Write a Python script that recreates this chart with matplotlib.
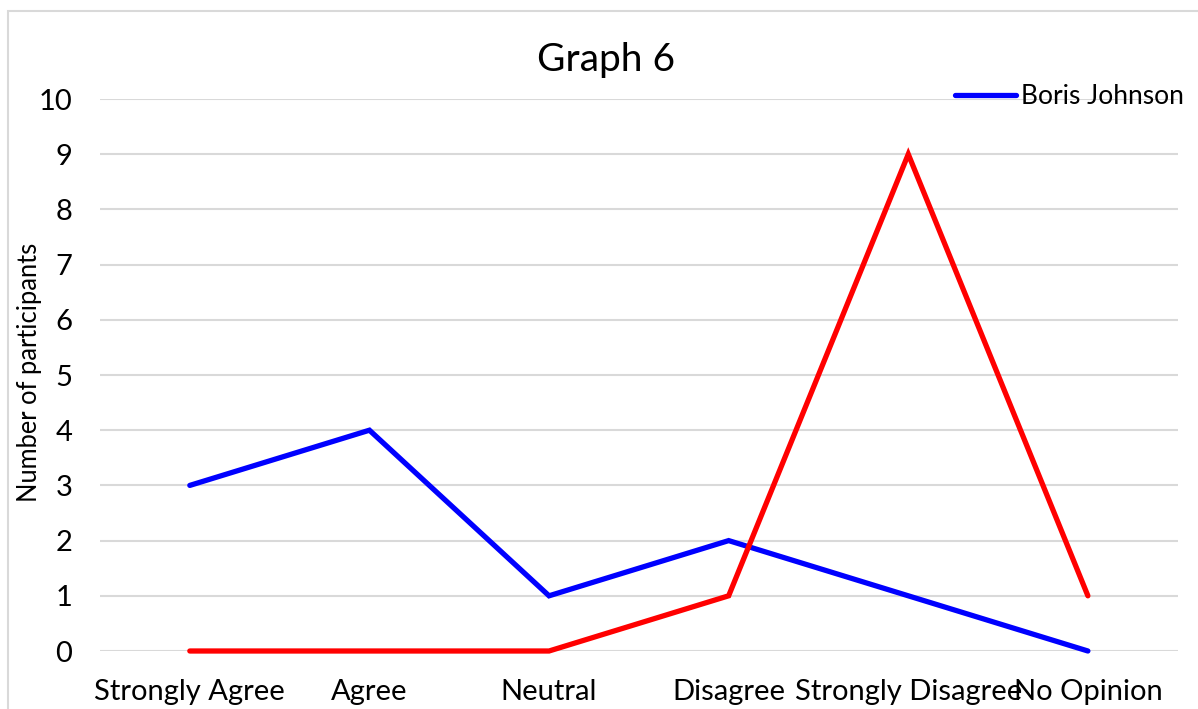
import matplotlib
matplotlib.use("Agg")
import matplotlib.pyplot as plt
from matplotlib.patches import Rectangle

categories = ["Strongly Agree", "Agree", "Neutral", "Disagree", "Strongly Disagree", "No Opinion"]
boris_johnson = [3, 4, 1, 2, 1, 0]
second_series = [0, 0, 0, 1, 9, 1]
y_ticks = list(range(0, 11))

plt.rcParams["font.family"] = ["Lato", "DejaVu Sans"]

W, H = 1198, 709
fig = plt.figure(figsize=(W / 100, H / 100), dpi=100)
fig.patch.set_facecolor("white")

# chart frame (partially outside the canvas)
fig.add_artist(Rectangle((8 / W, -0.1), 1.2, 1 - 11 / H + 0.1, transform=fig.transFigure,
                         fill=False, edgecolor="#d9d9d9", linewidth=1.5))

left, right = 100 / W, 1177.7 / W
top, bottom = 1 - 99 / H, 1 - 651 / H
ax = fig.add_axes([left, bottom, right - left, top - bottom])

x = list(range(len(categories)))
ax.plot(x, boris_johnson, color="#0000ff", linewidth=3.8, solid_capstyle="round",
        solid_joinstyle="miter", label="Boris Johnson", zorder=3)
ax.plot(x, second_series, color="#ff0000", linewidth=3.8, solid_capstyle="round",
        solid_joinstyle="miter", zorder=3)

ax.set_xlim(-0.5, len(categories) - 0.5)
ax.set_ylim(0, 10)
ax.set_yticks(y_ticks)
ax.set_xticks(x)
ax.set_xticklabels(categories, fontsize=21)
ax.tick_params(axis="y", labelsize=21, length=0, pad=20)
ax.tick_params(axis="x", length=0, pad=20)
ax.yaxis.grid(True, color="#d9d9d9", linewidth=1.5)
ax.set_axisbelow(True)
for s in ax.spines.values():
    s.set_visible(False)
ax.patch.set_alpha(0)
for ln in ax.lines:
    ln.set_clip_on(False)

fig.text(30 / W, 1 - 372 / H, "Number of participants", fontsize=18.4, rotation=90,
         ha="center", va="center")
fig.text(606 / W, 1 - 60 / H, "Graph 6", fontsize=28, ha="center", va="center")

ax.legend(loc="center left", bbox_to_anchor=(955 / W, 1 - 97 / H), bbox_transform=fig.transFigure,
          frameon=False, fontsize=19, handlelength=2.3, handletextpad=0.2, borderpad=0, borderaxespad=0)

fig.savefig("out.png", dpi=100)
